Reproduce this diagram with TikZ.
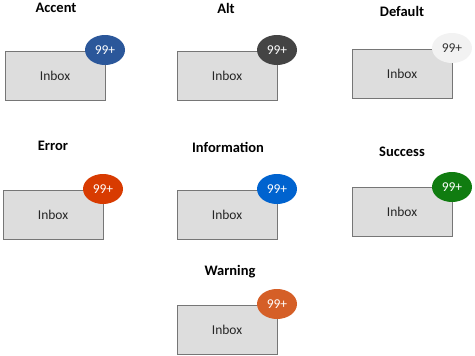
\documentclass[tikz,border=0pt]{standalone}
\usepackage{fontspec}
\setmainfont{Carlito}
\usetikzlibrary{shapes.geometric}
\definecolor{accentc}{HTML}{2B579A}
\definecolor{altc}{HTML}{444444}
\definecolor{defaultc}{HTML}{F2F2F2}
\definecolor{errorc}{HTML}{D83B01}
\definecolor{infoc}{HTML}{0063CF}
\definecolor{successc}{HTML}{107C10}
\definecolor{warnc}{HTML}{D55F27}
\definecolor{boxfill}{HTML}{DDDDDD}
\definecolor{boxline}{HTML}{767676}
\tikzset{
  inbox/.style={draw=boxline, fill=boxfill, line width=1pt, minimum width=100pt, minimum height=49pt, inner sep=0pt, font=\fontsize{13.5}{15}\selectfont, text=black!85},
  badge/.style={ellipse, fill=#1, minimum width=40pt, minimum height=30pt, inner sep=0pt, text=white, font=\fontsize{13.5}{15}\selectfont},
  title/.style={font=\bfseries\fontsize{14.5}{17}\selectfont, text=black}
}
\begin{document}
\begin{tikzpicture}[x=1pt,y=-1pt]
\useasboundingbox (0,0) rectangle (475,356);
% row 1
\node[title] (tAccent) at (56,8) {Accent};
\node[inbox] (bAccent) at (55,75.5) {Inbox};
\node[badge=accentc] (cAccent) at (105,50) {99+};

\node[title] (tAlt) at (226,8) {Alt};
\node[inbox] (bAlt) at (227,75.5) {Inbox};
\node[badge=altc] (cAlt) at (277,50) {99+};

\node[title] (tDefault) at (402,11) {Default};
\node[inbox] (bDefault) at (402,73.5) {Inbox};
\node[badge=defaultc, text=black!80] (cDefault) at (452,48) {99+};

% row 2
\node[title] (tError) at (53,146) {Error};
\node[inbox] (bError) at (53,214.5) {Inbox};
\node[badge=errorc] (cError) at (103,189) {99+};

\node[title] (tInfo) at (228,147) {Information};
\node[inbox] (bInfo) at (227,214.5) {Inbox};
\node[badge=infoc] (cInfo) at (277,189) {99+};

\node[title] (tSuccess) at (402,152) {Success};
\node[inbox] (bSuccess) at (402,211.5) {Inbox};
\node[badge=successc] (cSuccess) at (452,187) {99+};

% row 3
\node[title] (tWarn) at (230,272) {Warning};
\node[inbox] (bWarn) at (227,329.5) {Inbox};
\node[badge=warnc] (cWarn) at (277,304) {99+};
\end{tikzpicture}
\end{document}
